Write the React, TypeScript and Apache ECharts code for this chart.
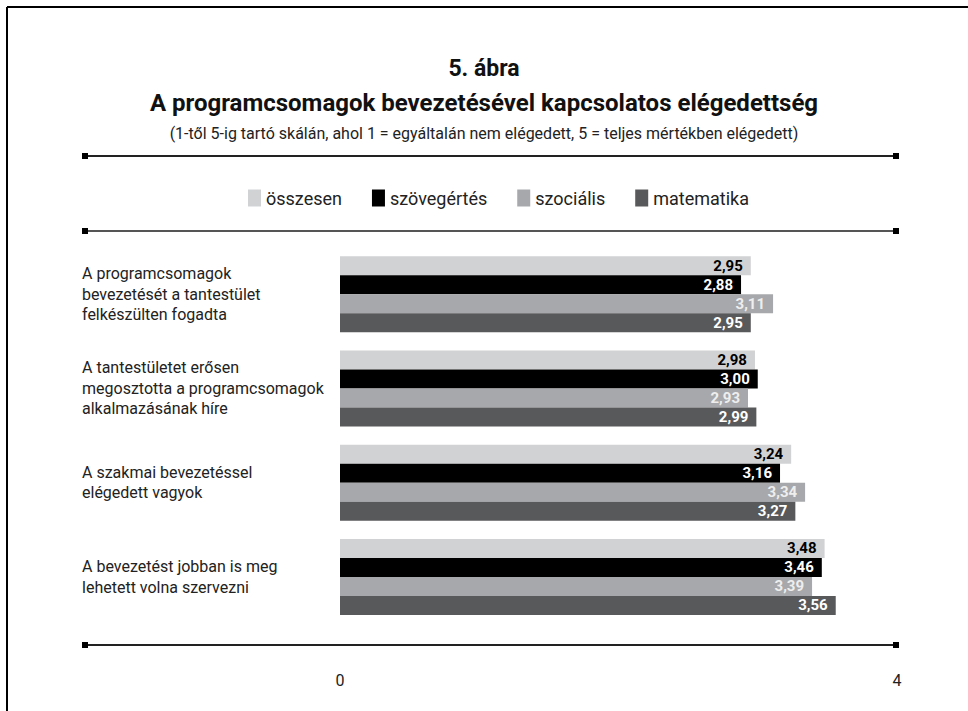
import React, { useEffect, useRef } from "react";
import * as echarts from "echarts";

const categories = [
  "A programcsomagok\nbevezetését a tantestület\nfelkészülten fogadta",
  "A tantestületet erősen\nmegosztotta a programcsomagok\nalkalmazásának híre",
  "A szakmai bevezetéssel\nelégedett vagyok",
  "A bevezetést jobban is meg\nlehetett volna szervezni",
];
const seriesNames = ["összesen", "szövegértés", "szociális", "matematika"];
const osszesen = [2.95, 2.98, 3.24, 3.48];
const szovegertes = [2.88, 3.0, 3.16, 3.46];
const szocialis = [3.11, 2.93, 3.34, 3.39];
const matematika = [2.95, 2.99, 3.27, 3.56];
const xTicks = [0, 4];

const FONT = "Roboto";

export default function App() {
  const ref = useRef<HTMLDivElement>(null);
  useEffect(() => {
    if (!ref.current) return;
    const chart = echarts.init(ref.current, undefined, { renderer: "svg" });
    const colors = ["#d1d2d4", "#000000", "#a7a8ab", "#58595b"];
    const labelColors = ["#000000", "#ffffff", "#eeeeee", "#ffffff"];
    const values = [osszesen, szovegertes, szocialis, matematika];
    const sepLine = (y: number, color: string) => [
      { type: "line", shape: { x1: 86, y1: y, x2: 896, y2: y }, style: { stroke: color, lineWidth: 2 }, silent: true },
      { type: "rect", shape: { x: 82, y: y - 3, width: 6, height: 6 }, style: { fill: "#000" }, silent: true },
      { type: "rect", shape: { x: 893, y: y - 3, width: 6, height: 6 }, style: { fill: "#000" }, silent: true },
    ];
    chart.setOption({
      animation: false,
      textStyle: { fontFamily: FONT },
      graphic: [
        { type: "line", shape: { x1: 7, y1: 7, x2: 968, y2: 7 }, style: { stroke: "#000", lineWidth: 2 }, silent: true },
        { type: "line", shape: { x1: 7, y1: 7, x2: 7, y2: 711 }, style: { stroke: "#000", lineWidth: 2 }, silent: true },
        { type: "text", x: 484, y: 68, style: { text: "5. ábra", font: `bold 23px ${FONT}`, fill: "#111", align: "center", verticalAlign: "middle" } },
        { type: "text", x: 484, y: 103, style: { text: "A programcsomagok bevezetésével kapcsolatos elégedettség", font: `bold 24px ${FONT}`, fill: "#111", align: "center", verticalAlign: "middle" } },
        { type: "text", x: 484, y: 133, style: { text: "(1-től 5-ig tartó skálán, ahol 1 = egyáltalán nem elégedett, 5 = teljes mértékben elégedett)", font: `16px ${FONT}`, fill: "#222", align: "center", verticalAlign: "middle" } },
        ...sepLine(156, "#222"),
        ...sepLine(231, "#555"),
        ...sepLine(645, "#222"),
      ],
      legend: {
        left: 243,
        top: 184,
        icon: "rect",
        itemWidth: 13,
        itemHeight: 17,
        itemGap: 30,
        textStyle: { fontSize: 18, color: "#222", fontFamily: FONT },
        data: seriesNames,
      },
      grid: { left: 340, right: 71, top: 247, height: 377, containLabel: false },
      xAxis: {
        type: "value",
        min: 0,
        max: 4,
        interval: 4,
        splitLine: { show: false },
        axisLine: { show: false },
        axisTick: { show: false },
        axisLabel: { margin: 48, fontSize: 16, color: "#222", formatter: (v: number) => (xTicks.includes(v) ? String(v) : "") },
      },
      yAxis: {
        type: "category",
        inverse: true,
        data: categories,
        axisLine: { show: false },
        axisTick: { show: false },
        axisLabel: { align: "left", margin: 258, fontSize: 16, lineHeight: 20.5, color: "#222" },
      },
      series: seriesNames.map((name, i) => ({
        name,
        type: "bar",
        data: values[i],
        barWidth: 19,
        barGap: "0%",
        itemStyle: { color: colors[i] },
        label: {
          show: true,
          position: "insideRight",
          distance: 8,
          formatter: (p: any) => p.value.toFixed(2).replace(".", ","),
          color: labelColors[i],
          fontWeight: "bold",
          fontSize: 15,
          fontFamily: FONT,
        },
      })),
    });
    return () => chart.dispose();
  }, []);
  return <div ref={ref} style={{ position: "absolute", left: 0, top: 0, width: 968, height: 711 }} />;
}
